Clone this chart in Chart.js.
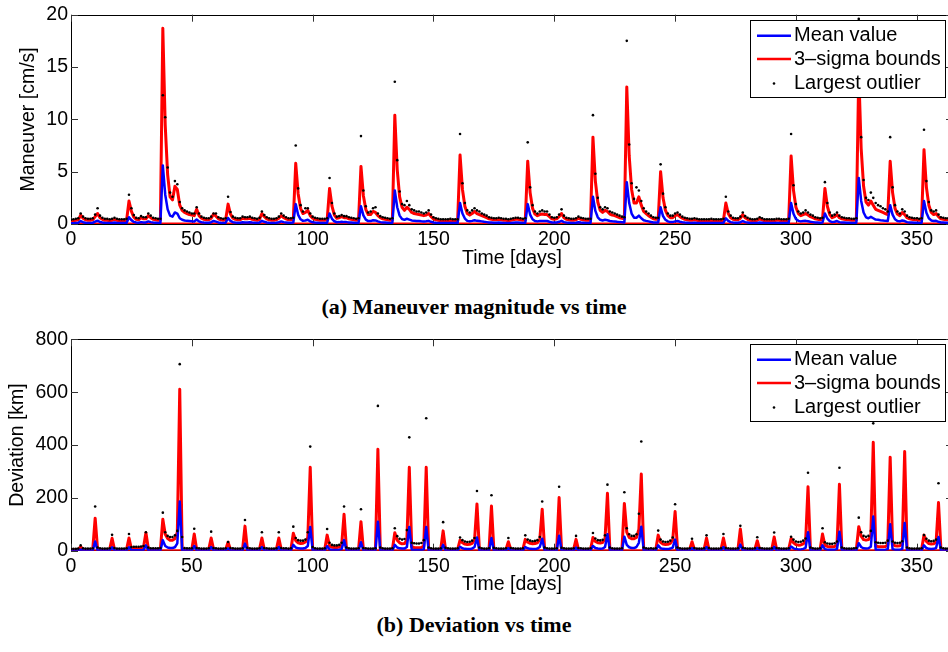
<!DOCTYPE html>
<html>
<head>
<meta charset="utf-8">
<script src="https://cdn.jsdelivr.net/npm/chart.js@4.4.1/dist/chart.umd.min.js"></script>
<style>
html, body { margin: 0; padding: 0; background: #fff; overflow: hidden; width: 948px; height: 652px; }
canvas { position: absolute; left: 0; }
#maneuverChart { top: 0; }
#deviationChart { top: 320px; }
.caption { position: absolute; left: 0; width: 948px; text-align: center; line-height: 26px;
  font: bold 22px "Liberation Serif", "Times New Roman", serif; color: #000; }
</style>
</head>
<body>
<canvas id="maneuverChart" width="960" height="275"></canvas>
<div class="caption" style="top:294px">(a) Maneuver magnitude vs time</div>
<canvas id="deviationChart" width="960" height="280"></canvas>
<div class="caption" style="top:612px">(b) Deviation vs time</div>
<script>
'use strict';

// time axis: one sample per day
const days = [];
for (let d = 0; d <= 365; d++) days.push(d);

const timeTicks = [0, 50, 100, 150, 200, 250, 300, 350];
const legendLabels = ['Mean value', '3\u2013sigma bounds', 'Largest outlier'];
const lowerDays = [0, 365];
const lowerBound = [0, 0];

// (a) maneuver magnitude [cm/s]
const maneuverTicks = [0, 5, 10, 15, 20];
const sigmaManeuver = [
  0.3,0.3,0.35,0.4,0.85,0.55,0.4,0.35,0.35,0.4,
  0.7,1.0,0.6,0.45,0.35,0.35,0.3,0.35,0.45,0.35,
  0.3,0.3,0.3,0.35,2.2,1.2,0.65,0.45,0.4,0.6,
  0.5,0.5,0.8,0.6,0.45,0.4,0.35,0.35,18.7,9.4,
  4.7,2.6,2.3,3.6,3.3,1.8,1.3,1.1,1.0,0.9,
  0.85,0.8,1.4,0.8,0.55,0.45,0.4,0.4,0.55,0.95,
  0.75,0.5,0.4,0.35,0.4,1.9,0.95,0.55,0.45,0.4,
  0.4,0.55,0.5,0.5,0.55,0.45,0.4,0.35,0.45,1.0,
  0.7,0.5,0.4,0.35,0.35,0.4,0.55,0.8,0.6,0.5,
  0.4,0.4,0.45,5.8,2.9,1.5,1.0,1.1,1.3,0.8,
  0.55,0.45,0.4,0.35,0.35,0.35,0.4,3.4,1.7,0.85,
  0.55,0.6,0.7,0.6,0.6,0.5,0.45,0.4,0.35,0.4,
  5.5,2.7,1.4,0.9,0.9,1.2,1.1,0.8,0.6,0.5,
  0.45,0.4,0.35,0.4,10.4,5.2,2.6,1.6,1.3,1.6,
  1.4,1.1,1.0,0.95,0.9,0.85,0.8,0.85,1.0,0.7,
  0.5,0.4,0.35,0.3,0.3,0.3,0.3,0.35,0.3,0.3,
  0.3,6.6,3.3,1.7,1.0,0.85,1.0,1.2,1.0,0.9,
  0.8,0.7,0.6,0.5,0.45,0.4,0.4,0.45,0.4,0.35,
  0.35,0.3,0.35,0.4,0.45,0.45,0.4,0.35,0.4,6.0,
  3.0,1.5,0.95,0.8,0.9,0.95,0.9,0.9,0.7,0.5,
  0.45,0.5,0.7,1.0,0.6,0.45,0.4,0.35,0.35,0.4,
  0.55,0.45,0.4,0.35,0.35,0.35,8.3,4.1,2.1,1.3,
  1.1,1.3,1.2,0.95,0.85,0.8,0.7,0.6,0.55,0.5,
  13.1,6.5,3.3,2.0,2.0,2.6,1.8,1.2,1.0,0.8,
  0.65,0.5,0.45,0.45,5.0,2.5,1.3,0.8,0.6,0.6,
  0.8,0.9,0.7,0.55,0.45,0.4,0.35,0.35,0.4,0.35,
  0.3,0.3,0.3,0.3,0.3,0.35,0.3,0.3,0.3,0.3,
  0.35,2.0,1.0,0.6,0.45,0.4,0.4,0.55,0.9,0.6,
  0.45,0.35,0.3,0.3,0.35,0.5,0.4,0.3,0.3,0.3,
  0.3,0.3,0.35,0.35,0.3,0.3,0.3,0.35,6.5,3.2,
  1.6,1.0,0.8,0.9,1.0,0.85,0.7,0.6,0.5,0.45,
  0.4,0.45,3.4,1.7,0.9,0.6,0.7,0.9,0.6,0.5,
  0.45,0.4,0.4,0.35,0.35,0.4,14.5,7.2,3.6,2.1,
  1.8,2.2,1.8,1.4,1.3,1.2,1.1,1.0,0.9,6.0,
  3.0,1.5,0.95,0.8,1.1,0.9,0.6,0.5,0.45,0.4,
  0.4,0.35,0.4,7.1,3.5,1.8,1.1,0.9,1.0,0.7,
  0.5,0.45,0.4,0.4,0.35,0.35
];
const meanManeuver = [
  0.08,0.08,0.1,0.12,0.28,0.17,0.12,0.1,0.1,0.12,
  0.22,0.32,0.19,0.14,0.1,0.1,0.09,0.1,0.14,0.1,
  0.09,0.09,0.09,0.1,0.65,0.37,0.2,0.14,0.12,0.18,
  0.15,0.15,0.25,0.18,0.14,0.12,0.1,0.1,5.6,2.8,
  1.4,0.8,0.7,1.1,1.0,0.55,0.4,0.34,0.3,0.28,
  0.26,0.25,0.42,0.25,0.17,0.14,0.12,0.12,0.17,0.29,
  0.23,0.15,0.12,0.1,0.12,0.58,0.29,0.17,0.14,0.12,
  0.12,0.17,0.15,0.15,0.17,0.14,0.12,0.1,0.14,0.3,
  0.21,0.15,0.12,0.1,0.1,0.12,0.17,0.25,0.18,0.15,
  0.12,0.12,0.14,1.9,0.88,0.45,0.3,0.34,0.4,0.25,
  0.17,0.14,0.12,0.1,0.1,0.1,0.12,1.0,0.5,0.26,
  0.17,0.18,0.21,0.18,0.18,0.15,0.14,0.12,0.1,0.12,
  1.7,0.82,0.42,0.28,0.28,0.36,0.34,0.25,0.18,0.15,
  0.14,0.12,0.1,0.12,3.2,1.6,0.8,0.48,0.4,0.5,
  0.42,0.34,0.3,0.29,0.28,0.26,0.25,0.26,0.3,0.21,
  0.15,0.12,0.1,0.09,0.09,0.09,0.09,0.1,0.09,0.09,
  0.09,2.0,1.0,0.52,0.3,0.26,0.3,0.36,0.3,0.28,
  0.25,0.21,0.18,0.15,0.14,0.12,0.12,0.14,0.12,0.1,
  0.1,0.09,0.1,0.12,0.14,0.14,0.12,0.1,0.12,1.9,
  0.9,0.45,0.29,0.25,0.28,0.29,0.28,0.28,0.21,0.15,
  0.14,0.15,0.21,0.3,0.18,0.14,0.12,0.1,0.1,0.12,
  0.17,0.14,0.12,0.1,0.1,0.1,2.6,1.25,0.64,0.4,
  0.34,0.4,0.36,0.29,0.26,0.25,0.21,0.18,0.17,0.15,
  4.0,2.0,1.0,0.6,0.6,0.8,0.55,0.36,0.3,0.25,
  0.2,0.15,0.14,0.14,1.6,0.76,0.4,0.25,0.18,0.18,
  0.25,0.28,0.21,0.17,0.14,0.12,0.1,0.1,0.12,0.1,
  0.09,0.09,0.09,0.09,0.09,0.1,0.09,0.09,0.09,0.09,
  0.1,0.55,0.3,0.18,0.14,0.12,0.12,0.17,0.28,0.18,
  0.14,0.1,0.09,0.09,0.1,0.15,0.12,0.09,0.09,0.09,
  0.09,0.09,0.1,0.1,0.09,0.09,0.09,0.1,2.0,0.98,
  0.48,0.3,0.25,0.28,0.3,0.26,0.21,0.18,0.15,0.14,
  0.12,0.14,1.0,0.52,0.28,0.18,0.21,0.28,0.18,0.15,
  0.14,0.12,0.12,0.1,0.1,0.12,4.4,2.2,1.1,0.64,
  0.55,0.68,0.55,0.42,0.4,0.36,0.34,0.3,0.28,1.8,
  0.9,0.45,0.29,0.25,0.34,0.28,0.18,0.15,0.14,0.12,
  0.12,0.1,0.12,2.2,1.08,0.55,0.34,0.28,0.3,0.21,
  0.15,0.14,0.12,0.12,0.1,0.1
];
const outlierManeuver = [
  0.4,0.45,0.5,0.55,1.0,0.7,0.55,0.5,0.5,0.55,
  0.9,1.5,0.8,0.6,0.5,0.5,0.45,0.5,0.6,0.5,
  0.45,0.45,0.45,0.5,2.8,1.5,0.85,0.6,0.55,0.75,
  0.65,0.65,1.0,0.8,0.6,0.55,0.5,0.5,12.3,10.2,
  5.4,3.0,2.6,4.1,3.8,2.1,1.5,1.3,1.2,1.1,
  1.0,1.0,1.6,1.0,0.7,0.6,0.55,0.55,0.7,1.0,
  1.0,0.65,0.55,0.5,0.55,2.6,1.15,0.7,0.6,0.55,
  0.55,0.7,0.65,0.65,0.7,0.6,0.55,0.5,0.6,1.2,
  0.85,0.65,0.55,0.5,0.5,0.55,0.7,1.0,0.8,0.65,
  0.55,0.55,0.6,7.5,3.4,1.8,1.2,1.5,1.5,1.0,
  0.7,0.6,0.55,0.5,0.5,0.5,0.55,4.4,2.0,1.0,
  0.7,0.75,0.85,0.75,0.75,0.65,0.6,0.55,0.5,0.55,
  8.4,3.2,1.7,1.1,1.2,1.5,1.6,1.0,0.75,0.65,
  0.6,0.55,0.5,0.55,13.6,6.1,3.1,1.9,1.8,2.2,
  1.8,1.4,1.3,1.2,1.2,1.1,1.0,1.1,1.3,0.9,
  0.65,0.55,0.5,0.45,0.45,0.45,0.45,0.5,0.45,0.45,
  0.45,8.6,3.9,2.0,1.3,1.1,1.3,1.5,1.3,1.2,
  1.0,0.9,0.8,0.65,0.6,0.55,0.55,0.6,0.55,0.5,
  0.5,0.45,0.5,0.55,0.6,0.6,0.55,0.5,0.55,7.8,
  3.5,1.8,1.2,1.0,1.2,1.3,1.2,1.2,0.9,0.65,
  0.6,0.65,0.9,1.4,0.8,0.6,0.55,0.5,0.5,0.55,
  0.7,0.6,0.55,0.5,0.5,0.5,10.4,4.8,2.5,1.6,
  1.4,1.6,1.5,1.2,1.1,1.0,0.9,0.8,0.7,0.65,
  17.5,7.6,3.9,2.4,3.5,3.2,2.2,1.5,1.2,1.0,
  0.8,0.65,0.6,0.6,5.7,2.9,1.6,1.0,0.8,0.8,
  1.0,1.1,0.9,0.7,0.6,0.55,0.5,0.5,0.55,0.5,
  0.45,0.45,0.45,0.45,0.45,0.5,0.45,0.45,0.45,0.45,
  0.5,2.6,1.2,0.8,0.6,0.55,0.55,0.7,1.1,0.75,
  0.6,0.5,0.45,0.45,0.5,0.65,0.55,0.45,0.45,0.45,
  0.45,0.45,0.5,0.5,0.45,0.45,0.45,0.5,8.6,3.7,
  1.9,1.2,1.0,1.1,1.3,1.1,0.9,0.8,0.65,0.6,
  0.55,0.6,4.0,2.0,1.1,0.8,0.9,1.1,0.8,0.65,
  0.6,0.55,0.55,0.5,0.5,0.55,19.6,8.3,4.2,2.5,
  2.3,3.0,2.5,2.0,1.8,1.7,1.5,1.4,1.2,8.3,
  3.5,1.8,1.2,1.0,1.4,1.2,0.8,0.65,0.6,0.55,
  0.55,0.5,0.55,9.0,4.1,2.1,1.3,1.2,1.3,0.9,
  0.65,0.6,0.55,0.55,0.5,0.5
];

// (b) deviation [km]
const deviationTicks = [0, 200, 400, 600, 800];
const sigmaDeviation = [
  4,4,4,5,15,5,4,4,4,5,
  123,5,4,4,4,4,5,47,5,4,
  4,4,4,5,48,7,8,8,8,9,
  12,68,8,5,5,5,5,5,119,62,
  46,40,40,45,70,611,6,4,4,4,
  5,63,5,4,4,4,4,5,48,5,
  4,4,4,4,5,32,5,4,4,4,
  4,5,93,5,4,4,4,4,5,48,
  5,4,4,4,4,5,48,5,4,4,
  4,5,66,38,30,27,28,33,50,316,
  6,4,4,4,4,5,59,18,13,12,
  12,14,20,138,6,4,4,4,4,5,
  110,5,4,4,4,4,5,384,6,5,
  4,4,4,5,68,40,30,26,27,40,
  316,15,12,11,11,12,18,316,6,4,
  4,4,4,5,75,5,4,4,4,4,
  5,40,30,25,23,24,28,40,177,6,
  4,4,4,5,169,5,4,4,4,4,
  5,34,5,4,4,4,4,5,43,32,
  28,26,27,30,42,157,6,4,4,4,
  4,5,201,5,4,4,4,4,5,43,
  5,4,4,4,4,5,50,35,30,29,
  31,45,217,6,5,4,4,4,5,179,
  70,50,45,45,50,80,290,6,5,5,
  5,4,5,59,32,25,23,24,28,40,
  148,6,4,4,4,4,5,34,5,4,
  4,4,5,48,5,4,4,4,4,5,
  48,5,4,4,4,4,5,82,5,4,
  4,4,4,5,38,5,4,4,4,4,
  5,52,5,4,4,4,4,5,47,30,
  23,21,22,26,35,242,6,5,4,4,
  5,63,20,16,15,15,16,22,251,6,
  5,4,4,4,4,5,91,55,42,40,
  42,55,410,18,16,15,15,16,22,354,
  25,19,18,19,25,375,6,4,4,4,
  4,4,5,59,35,27,25,26,32,182,
  6,4,4,4,4,4
];
const meanDeviation = [
  1,1,1,1,4,1,1,1,1,1,
  35,1,1,1,1,1,1,13,1,1,
  1,1,1,1,13,2,2,2,2,2,
  3,20,2,1,1,1,1,1,40,18,
  12,10,10,13,28,186,2,1,1,1,
  1,18,1,1,1,1,1,1,14,1,
  1,1,1,1,1,9,1,1,1,1,
  1,1,27,1,1,1,1,1,1,14,
  1,1,1,1,1,1,14,1,1,1,
  1,1,22,12,9,8,8,10,18,90,
  2,1,1,1,1,1,17,5,3,3,
  3,4,6,40,2,1,1,1,1,1,
  32,1,1,1,1,1,1,110,2,1,
  1,1,1,1,22,12,9,8,8,14,
  90,4,3,3,3,3,5,90,2,1,
  1,1,1,1,22,1,1,1,1,1,
  1,15,9,7,6,6,8,14,50,2,
  1,1,1,1,48,1,1,1,1,1,
  1,10,1,1,1,1,1,1,14,9,
  7,6,6,8,14,45,2,1,1,1,
  1,1,57,1,1,1,1,1,1,12,
  1,1,1,1,1,1,18,10,8,7,
  8,14,62,2,1,1,1,1,1,53,
  22,13,10,10,14,30,91,2,1,1,
  1,1,1,20,9,7,6,6,8,12,
  42,2,1,1,1,1,1,10,1,1,
  1,1,1,14,1,1,1,1,1,1,
  14,1,1,1,1,1,1,23,1,1,
  1,1,1,1,11,1,1,1,1,1,
  1,15,1,1,1,1,1,1,16,9,
  6,5,5,7,11,70,2,1,1,1,
  1,20,6,4,4,4,4,6,72,2,
  1,1,1,1,1,1,28,14,9,8,
  9,15,129,4,4,3,3,4,6,100,
  6,4,4,4,6,105,2,1,1,1,
  1,1,1,20,10,7,6,7,10,52,
  2,1,1,1,1,1
];
const outlierDeviation = [
  6,7,7,8,20,9,8,8,8,9,
  167,12,9,8,8,8,9,60,10,8,
  8,8,8,9,63,14,15,15,15,16,
  18,70,12,9,9,9,9,10,144,70,
  56,52,52,58,75,706,52,10,9,9,
  9,83,10,9,8,8,8,9,72,10,
  9,8,8,8,9,33,10,9,8,8,
  8,9,116,11,9,8,8,8,9,70,
  10,9,8,8,8,9,70,10,9,9,
  8,9,91,48,40,38,38,42,70,394,
  14,9,8,8,8,9,82,30,22,20,
  20,22,30,167,12,9,8,8,8,9,
  157,10,9,8,8,8,9,548,12,9,
  8,8,8,9,85,55,45,42,44,78,
  429,30,28,27,27,29,40,501,12,9,
  8,8,8,9,108,11,9,8,8,8,
  9,50,40,35,33,34,38,48,226,12,
  9,8,8,9,210,11,9,8,8,8,
  9,48,10,9,8,8,8,9,58,42,
  38,36,37,40,52,186,12,9,8,8,
  8,9,242,11,9,8,8,8,9,56,
  10,9,8,8,8,9,67,46,40,39,
  41,58,250,12,9,8,8,8,9,221,
  85,62,56,56,62,140,413,12,9,8,
  9,8,9,76,42,35,33,34,38,50,
  176,12,9,8,8,8,9,45,10,8,
  8,8,9,58,10,8,8,8,8,9,
  63,10,9,8,8,8,9,94,11,9,
  8,8,8,9,51,10,9,8,8,8,
  9,69,10,9,8,8,8,9,53,42,
  35,33,34,38,46,295,12,9,8,8,
  9,85,32,27,26,26,28,35,314,12,
  9,8,8,8,9,10,125,70,56,53,
  56,75,482,32,30,29,29,30,38,540,
  35,30,29,30,36,520,12,9,8,8,
  8,8,9,59,45,38,36,37,42,255,
  12,9,8,8,8,8
];

const BLUE = '#0000ff';
const RED = '#ff0000';
const FONT = '"Liberation Sans", Arial, Helvetica, sans-serif';
const tickFont = { family: FONT, size: 19.5 };

const toPoints = (xs, ys) => ys.map((v, i) => ({ x: xs[i], y: v }));

// MATLAB style box with inward ticks on all sides, plus the legend box
const matlabAxes = {
  id: 'matlabAxes',
  beforeDatasetsDraw(chart) {
    const { ctx, chartArea: a, scales: { x, y } } = chart;
    ctx.save();
    ctx.strokeStyle = '#000';
    ctx.lineWidth = 1;
    ctx.strokeRect(a.left + 0.5, Math.round(a.top) + 0.5, a.right - a.left, Math.round(a.bottom - a.top));
    ctx.strokeStyle = '#333';
    ctx.beginPath();
    x.ticks.forEach(t => {
      const px = Math.round(x.getPixelForValue(t.value)) + 0.5;
      ctx.moveTo(px, a.bottom); ctx.lineTo(px, a.bottom - 7);
      ctx.moveTo(px, a.top); ctx.lineTo(px, a.top + 7);
    });
    y.ticks.forEach(t => {
      const py = Math.round(y.getPixelForValue(t.value)) + 0.5;
      ctx.moveTo(a.left, py); ctx.lineTo(a.left + 7, py);
      ctx.moveTo(a.right, py); ctx.lineTo(a.right - 7, py);
    });
    ctx.stroke();
    ctx.restore();
  },
  afterDatasetsDraw(chart) {
    const { ctx, chartArea: a } = chart;
    const bx = 750.5, by = Math.round(a.top + 5) + 0.5, bw = 195, bh = 77;
    const rows = [15.3, 38.5, 63];
    ctx.save();
    ctx.fillStyle = '#fff';
    ctx.fillRect(bx, by, bw, bh);
    ctx.strokeStyle = '#000';
    ctx.lineWidth = 1;
    ctx.strokeRect(bx, by, bw, bh);
    ctx.font = '20px ' + FONT;
    ctx.textBaseline = 'middle';
    legendLabels.forEach((label, i) => {
      const ly = by + rows[i];
      if (i < 2) {
        ctx.strokeStyle = i === 0 ? BLUE : RED;
        ctx.lineWidth = 2.5;
        ctx.beginPath();
        ctx.moveTo(757, ly); ctx.lineTo(791, ly);
        ctx.stroke();
      } else {
        ctx.fillStyle = '#000';
        ctx.beginPath();
        ctx.arc(774, ly, 1.3, 0, Math.PI * 2);
        ctx.fill();
      }
      ctx.fillStyle = '#000';
      ctx.fillText(label, 794, ly);
    });
    ctx.restore();
  }
};

function buildChart(id, cfg) {
  return new Chart(document.getElementById(id), {
    type: 'line',
    data: {
      datasets: [
        { label: legendLabels[2], data: toPoints(days, cfg.outlier), showLine: false,
          pointRadius: 1.3, pointBackgroundColor: '#000', pointBorderWidth: 0, order: 0 },
        { label: legendLabels[0], data: toPoints(days, cfg.mean), borderColor: BLUE,
          borderWidth: 2.5, pointRadius: 0, order: 1 },
        { label: legendLabels[1], data: toPoints(days, cfg.sigma), borderColor: RED,
          borderWidth: 3, pointRadius: 0, order: 2 },
        { label: 'lower bound', data: toPoints(lowerDays, lowerBound), borderColor: RED,
          borderWidth: 3, pointRadius: 0, order: 3 }
      ]
    },
    options: {
      responsive: false,
      animation: false,
      devicePixelRatio: 1,
      events: [],
      elements: { line: { tension: 0, borderJoinStyle: 'round', borderCapStyle: 'round', fill: false } },
      layout: { padding: { top: cfg.padTop, right: 7, bottom: 0, left: 0 } },
      plugins: { legend: { display: false }, tooltip: { enabled: false } },
      scales: {
        x: {
          type: 'linear', min: 0, max: 365,
          grid: { display: false, drawTicks: false },
          border: { display: false },
          ticks: { font: tickFont, color: '#000', padding: 4, maxRotation: 0, autoSkip: false },
          afterBuildTicks: s => { s.ticks = timeTicks.map(v => ({ value: v })); },
          afterFit: s => { s.height = cfg.xHeight; },
          title: { display: true, text: 'Time [days]', font: tickFont, color: '#000',
                   padding: { top: 0, bottom: cfg.xTitlePad } }
        },
        y: {
          type: 'linear', min: 0, max: cfg.ticks[cfg.ticks.length - 1],
          grid: { display: false, drawTicks: false },
          border: { display: false },
          ticks: { font: tickFont, color: '#000', padding: 3 },
          afterBuildTicks: s => { s.ticks = cfg.ticks.map(v => ({ value: v })); },
          afterFit: s => { s.width = 71; },
          title: { display: true, text: cfg.yTitle, font: tickFont, color: '#000',
                   padding: { top: cfg.yTitlePad, bottom: 0 } }
        }
      }
    },
    plugins: [matlabAxes]
  });
}

buildChart('maneuverChart', {
  mean: meanManeuver, sigma: sigmaManeuver, outlier: outlierManeuver,
  ticks: maneuverTicks, yTitle: 'Maneuver [cm/s]',
  padTop: 13.3, xHeight: 51, xTitlePad: 4.6, yTitlePad: 17.4
});

buildChart('deviationChart', {
  mean: meanDeviation, sigma: sigmaDeviation, outlier: outlierDeviation,
  ticks: deviationTicks, yTitle: 'Deviation [km]',
  padTop: 19.3, xHeight: 49.3, xTitlePad: 3.6, yTitlePad: 6.1
});
</script>
</body>
</html>
